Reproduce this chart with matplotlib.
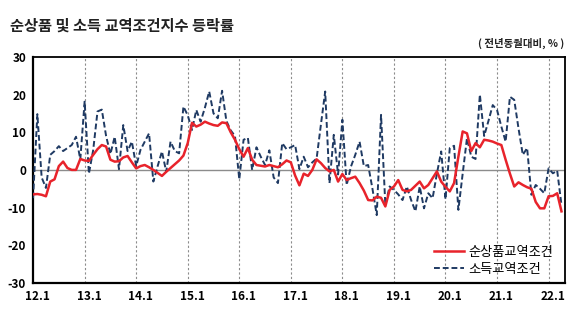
import matplotlib
matplotlib.use('Agg')
import matplotlib.pyplot as plt
import numpy as np

plt.rcParams['font.family'] = ['Noto Sans CJK KR', 'DejaVu Sans']

# monthly YoY change (%), 2012.1 - 2022.4
net_barter = (
    [-6.5, -6.4, -6.6, -7.0, -3.1, -2.5, 1.0, 2.2, 0.5, 0.0, 0.0, 2.9]        # 2012
    + [2.5, 2.4, 4.0, 5.5, 6.6, 6.2, 2.7, 2.2, 2.3, 3.3, 3.7, 2.0]           # 2013
    + [0.4, 1.0, 1.3, 0.7, 0.0, -0.8, -1.6, -0.5, 0.5, 1.5, 2.5, 3.8]        # 2014
    + [7.1, 12.5, 11.5, 12.0, 12.8, 12.3, 11.9, 11.7, 12.6, 12.4, 10.0, 8.0]  # 2015
    + [5.5, 3.5, 5.8, 2.7, 1.3, 1.1, 0.9, 1.3, 1.0, 0.7, 1.5, 2.5]           # 2016
    + [2.0, -1.5, -4.1, -1.0, -1.6, 0.0, 2.8, 1.8, 0.5, -0.4, 0.0, -3.1]     # 2017
    + [-1.1, -2.7, -2.2, -1.8, -3.5, -5.5, -8.0, -8.1, -7.1, -7.4, -9.7, -5.3]  # 2018
    + [-4.4, -2.7, -5.3, -5.7, -5.3, -4.2, -3.1, -4.9, -4.0, -2.2, -0.4, -3.1]  # 2019
    + [-4.5, -5.7, -3.5, 3.5, 10.2, 9.7, 5.0, 7.1, 6.0, 8.0, 7.8, 7.5]       # 2020
    + [7.0, 6.6, 2.7, -1.0, -4.4, -3.3, -4.0, -4.6, -5.0, -8.5, -10.2, -10.2]  # 2021
    + [-7.0, -6.9, -6.2, -11.0]                                               # 2022
)
income = (
    [-7.5, 14.8, -2.0, -4.8, 4.0, 5.0, 6.3, 5.0, 5.8, 6.6, 8.8, 2.8]
    + [18.1, -1.0, 5.3, 15.5, 16.0, 9.0, 4.2, 8.8, 0.2, 11.9, 5.0, 7.5]
    + [1.0, 5.3, 7.5, 9.7, -3.1, 1.0, 4.9, -0.5, 7.5, 5.0, 4.4, 16.8]
    + [14.5, 10.6, 15.9, 12.8, 16.5, 20.8, 15.0, 13.7, 21.0, 13.0, 10.5, 9.0]
    + [-2.5, 8.0, 8.5, 0.0, 6.0, 3.5, 1.3, 5.2, -2.0, -3.5, 7.1, 5.5]
    + [6.0, 6.6, 0.2, 3.5, 0.7, 2.0, 3.0, 12.0, 20.8, -3.5, 9.3, -1.2]
    + [13.3, -4.0, 0.9, 4.0, 7.5, 1.0, 1.3, -5.0, -12.0, 14.6, -9.3, -4.4]
    + [-5.3, -6.5, -8.0, -4.4, -8.0, -11.0, -4.4, -10.2, -6.2, -7.5, -1.0, 4.9]
    + [-7.8, 5.8, 6.4, -10.6, -1.0, 8.4, 3.5, 2.9, 20.0, 9.0, 13.0, 17.2]
    + [15.9, 11.5, 7.5, 19.4, 18.6, 11.0, 4.0, 5.8, -6.6, -4.0, -5.0, -6.2]
    + [0.4, -0.9, -0.2, -9.3]
)
year_labels = ['12.1', '13.1', '14.1', '15.1', '16.1', '17.1', '18.1', '19.1', '20.1', '21.1', '22.1']
y_ticks = [30, 20, 10, 0, -10, -20, -30]

RED = '#e8232b'
NAVY = '#1f3a63'

fig = plt.figure(figsize=(5.8, 3.23), dpi=100)
ax = fig.add_axes([0.057, 0.124, 0.917, 0.7])

x = np.arange(len(net_barter))
ax.plot(x, net_barter, color=RED, lw=1.8, label='순상품교역조건', zorder=4)
ax.plot(x, income, color=NAVY, lw=1.4, ls=(0, (3, 1.5)), label='소득교역조건', zorder=3)

year_pos = np.arange(len(year_labels)) * 12
ax.set_xlim(0, 123.8)
ax.set_ylim(-30, 30)
ax.set_xticks(year_pos + 1)
ax.set_xticklabels(year_labels, fontsize=8.5, fontweight='bold')
ax.set_yticks(y_ticks)
ax.set_yticklabels([str(v) for v in y_ticks], fontsize=8.5, fontweight='bold')
ax.tick_params(length=0, pad=5)

for xp in year_pos[1:]:
    ax.axvline(xp, color='#8c8c8c', lw=0.8, ls=(0, (2, 2)), zorder=1)
ax.axhline(0, color='#8c8c8c', lw=1.0, zorder=2)

for side in ['top', 'right']:
    ax.spines[side].set_linewidth(1.3)
for side in ['left', 'bottom']:
    ax.spines[side].set_linewidth(1.6)

ax.legend(loc='lower right', frameon=False, fontsize=9.5, handlelength=2.3,
          handletextpad=0.3, labelspacing=0.3, bbox_to_anchor=(1.0, -0.02))

fig.text(0.017, 0.92, '순상품 및 소득 교역조건지수 등락률', fontsize=11,
         fontweight='bold', ha='left', va='center', color='#222222')
fig.text(0.972, 0.866, '( 전년동월대비, % )', fontsize=7.5, fontweight='bold',
         ha='right', va='center', color='#222222')

fig.savefig('out.png', dpi=100, facecolor='white')
